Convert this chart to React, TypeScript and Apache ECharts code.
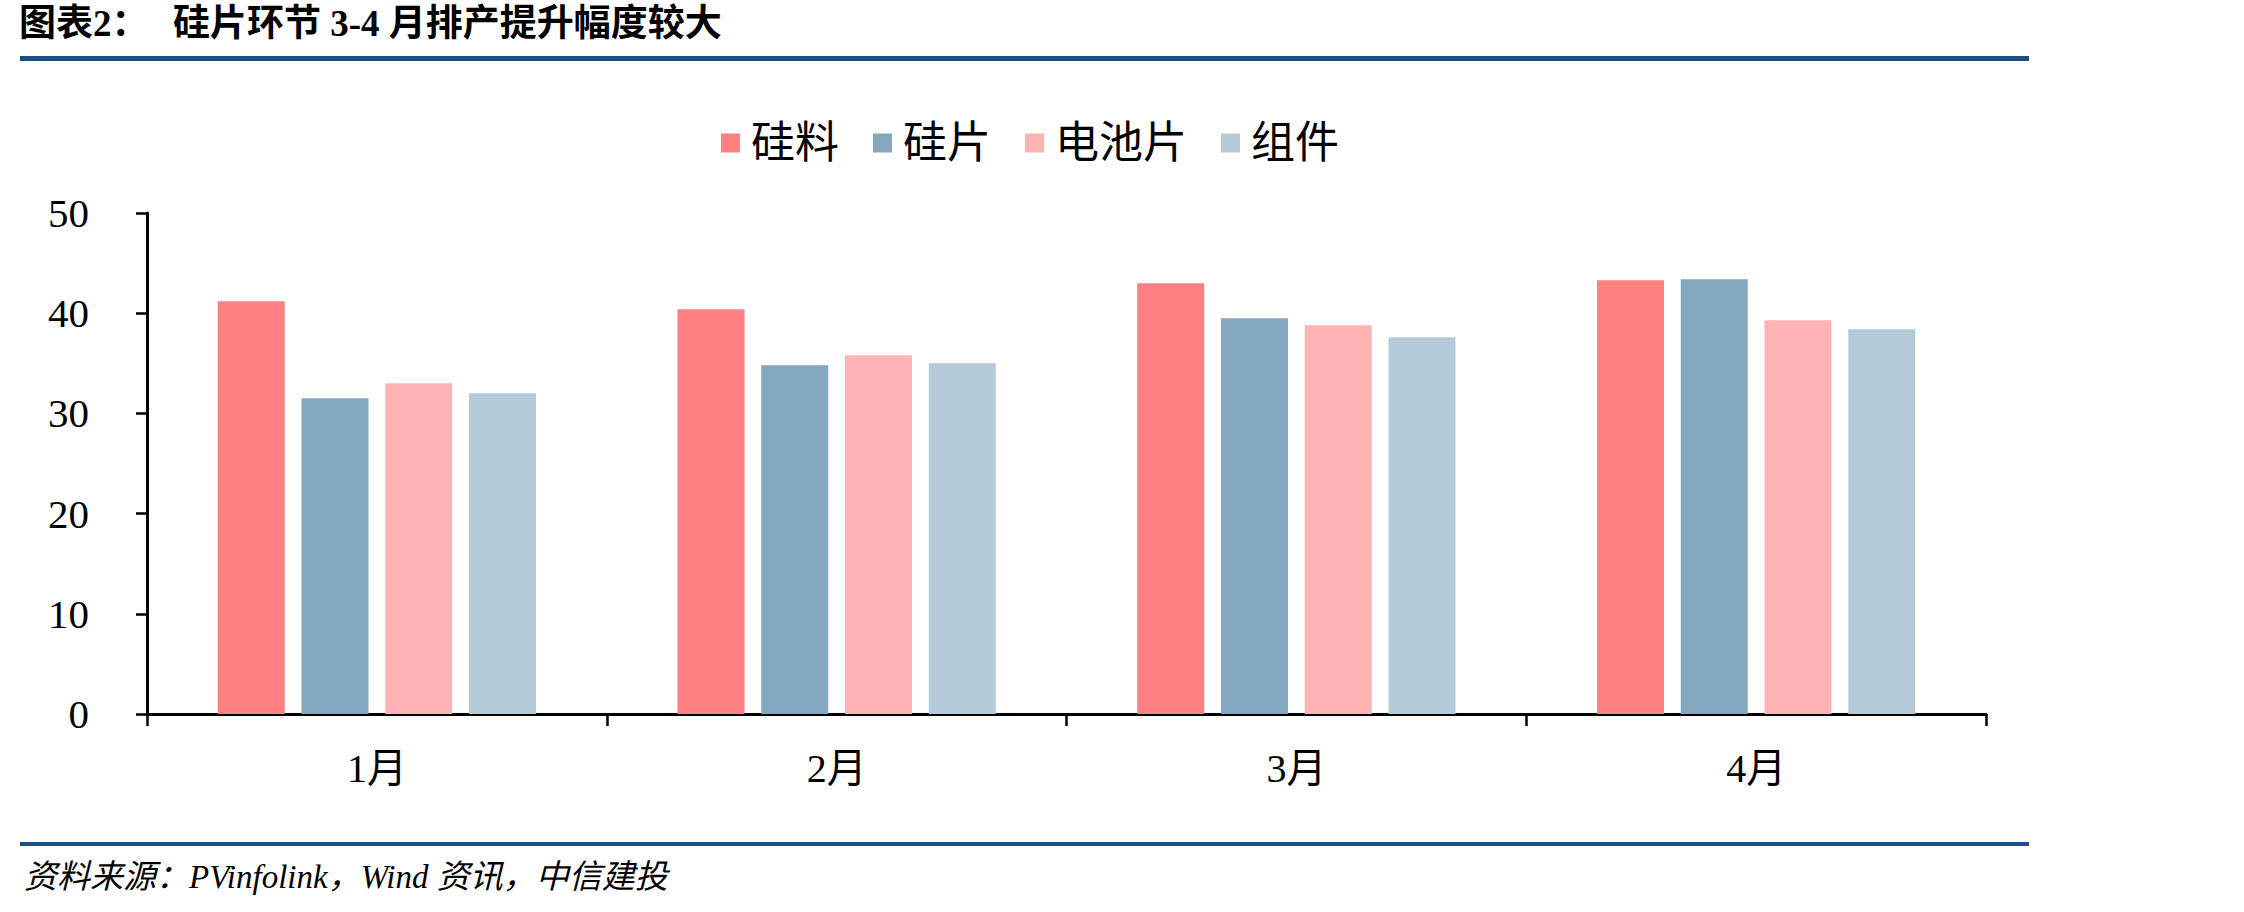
import React, { useEffect, useRef } from "react";
import * as echarts from "echarts";

const categories = ["1月", "2月", "3月", "4月"];
const seriesNames = ["硅料", "硅片", "电池片", "组件"];
const siliconMaterial = [41.2, 40.4, 43.0, 43.3];
const wafer = [31.5, 34.8, 39.5, 43.4];
const cell = [33.0, 35.8, 38.8, 39.3];
const module_ = [32.0, 35.0, 37.6, 38.4];
const seriesColors = ["#FF8080", "#84A7C0", "#FFB3B3", "#B5CAD8"];
const yTicks = { min: 0, max: 50, interval: 10 };

const titleLeft = "图表2：";
const titleMain = "硅片环节 3-4 月排产提升幅度较大";
const sourceText = "资料来源：PVinfolink，Wind 资讯，中信建投";

const FONT = "'Liberation Serif', 'Noto Sans CJK SC', serif";

export default function App() {
  const ref = useRef<HTMLDivElement>(null);
  useEffect(() => {
    if (!ref.current) return;
    const chart = echarts.init(ref.current, undefined, { renderer: "svg" });
    const values = [siliconMaterial, wafer, cell, module_];
    chart.setOption({
      animation: false,
      backgroundColor: "#ffffff",
      legend: {
        left: 716,
        top: 116,
        itemWidth: 19,
        itemHeight: 19,
        itemGap: 34,
        icon: "rect",
        textStyle: {
          fontFamily: FONT,
          fontSize: 44,
          color: "#000",
          padding: [0, 0, 0, 6],
        },
        data: seriesNames,
      },
      grid: { left: 147, right: 258, top: 213, bottom: 198, containLabel: false },
      xAxis: {
        type: "category",
        data: categories,
        axisLine: { show: true, lineStyle: { color: "#000", width: 3 } },
        axisTick: { show: true, length: 12, lineStyle: { color: "#000", width: 2.5 } },
        axisLabel: { fontFamily: FONT, fontSize: 40, color: "#000", margin: 34 },
        splitLine: { show: false },
      },
      yAxis: {
        type: "value",
        min: yTicks.min,
        max: yTicks.max,
        interval: yTicks.interval,
        axisLine: { show: true, lineStyle: { color: "#000", width: 3 } },
        axisTick: { show: true, length: 11, lineStyle: { color: "#000", width: 2.5 } },
        axisLabel: { fontFamily: FONT, fontSize: 41, color: "#000", margin: 58 },
        splitLine: { show: false },
      },
      series: seriesNames.map((name, i) => ({
        name,
        type: "bar",
        data: values[i],
        barWidth: 67,
        barGap: "25%",
        itemStyle: { color: seriesColors[i] },
      })),
      graphic: [
        {
          type: "text",
          left: 19,
          top: 5,
          style: {
            text: titleLeft,
            font: `bold 37px ${FONT}`,
            fill: "#000",
          },
        },
        {
          type: "text",
          left: 173,
          top: 5,
          style: {
            text: titleMain,
            font: `bold 37px ${FONT}`,
            fill: "#000",
          },
        },
        {
          type: "rect",
          shape: { x: 20, y: 56, width: 2009, height: 5 },
          style: { fill: "#1F4E85" },
        },
        {
          type: "rect",
          shape: { x: 20, y: 842, width: 2009, height: 4 },
          style: { fill: "#1F4E85" },
        },
        {
          type: "text",
          left: 24,
          top: 860,
          style: {
            text: sourceText,
            font: `italic 33px ${FONT}`,
            fill: "#000",
          },
        },
      ],
    });
    return () => chart.dispose();
  }, []);
  return (
    <div
      ref={ref}
      style={{ position: "fixed", left: 0, top: 0, width: 2244, height: 912 }}
    />
  );
}
